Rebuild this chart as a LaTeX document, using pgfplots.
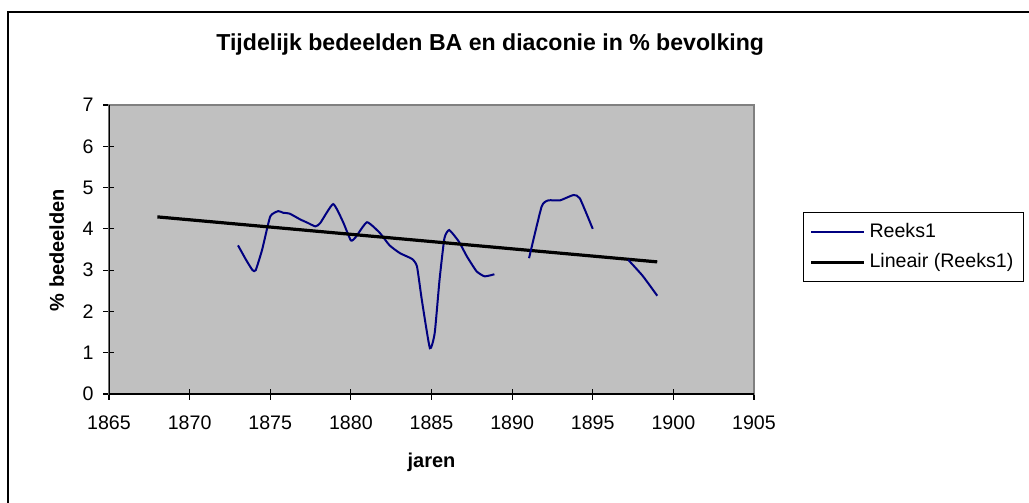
\documentclass[border=0pt]{standalone}
\usepackage{fontspec}
\setmainfont{Liberation Sans}
\usepackage{pgfplots}
\pgfplotsset{compat=1.18}

\definecolor{plotgray}{HTML}{C0C0C0}
\definecolor{bordergray}{HTML}{808080}
\definecolor{reeks}{HTML}{000080}

\begin{document}
\begin{tikzpicture}
% page = 1029 x 503 px at 0.5pt per px, axis box at (0,0)
\path[use as bounding box, clip] (-54.5pt,-54.5pt) rectangle (460pt,197pt);
\draw[line width=1pt] (-50.5pt,191pt) rectangle (480pt,-80pt);

\begin{axis}[
  scale only axis,
  width=322.5pt, height=144.5pt,
  xmin=1865, xmax=1905,
  ymin=0, ymax=7,
  xtick={1865,1870,...,1905},
  ytick={0,1,...,7},
  xtick pos=left, ytick pos=left,
  tick align=center,
  major tick length=5.5pt,
  tick style={black, line width=0.6pt},
  axis line style={bordergray, line width=0.6pt},
  axis background/.style={fill=plotgray},
  /pgf/number format/1000 sep={},
  /pgf/number format/assume math mode=true,
  tick label style={font=\fontsize{9.8}{12}\selectfont},
  xticklabel style={yshift=-4.5pt},
  yticklabel style={xshift=-1.5pt},
  every axis title shift=0pt,
  title={Tijdelijk bedeelden BA en diaconie in \% bevolking},
  title style={font=\bfseries\fontsize{11.55}{14}\selectfont, at={(axis description cs:0.591,1.208)}, anchor=center},
  xlabel={jaren},
  ylabel={\% bedeelden},
  label style={font=\bfseries\fontsize{10}{12}\selectfont},
  xlabel style={at={(axis description cs:0.5,-0.235)}, anchor=center},
  ylabel style={at={(axis description cs:-0.081,0.498)}, anchor=center},
  legend style={at={(axis description cs:1.076,0.63)}, anchor=north west,
    draw=black, fill=white, font=\fontsize{9.8}{12}\selectfont,
    row sep=2.5pt, inner ysep=3.5pt},
  legend cell align=left,
  legend image code/.code={\draw[mark repeat=2,mark phase=2] plot coordinates {(0cm,0cm) (0.47cm,0cm) (0.93cm,0cm)};},
]

\addplot[reeks, line width=1pt, smooth, tension=0.3] coordinates {
  (1873,3.6) (1873.5,3.25) (1873.9,3.0) (1874.1,3.0) (1874.5,3.5)
  (1875,4.3) (1875.5,4.43) (1875.8,4.39) (1876.2,4.37) (1876.85,4.23)
  (1877.3,4.15) (1877.8,4.06) (1878.1,4.14) (1878.9,4.6) (1879.5,4.18)
  (1880,3.72) (1880.3,3.8) (1881,4.16) (1881.8,3.9) (1882.4,3.6)
  (1883.05,3.41) (1883.8,3.27) (1884.1,3.09) (1884.4,2.28) (1884.9,1.11)
  (1885.2,1.48) (1885.5,2.77) (1885.8,3.77) (1886.1,3.97) (1886.7,3.69)
  (1887.2,3.33) (1887.8,2.97) (1888.3,2.85) (1888.9,2.9)
};
\addlegendentry{Reeks1}

\addplot[black, line width=1.6pt] coordinates {(1868,4.29) (1899,3.2)};
\addlegendentry{Lineair (Reeks1)\hspace{12pt}}

\addplot[reeks, line width=1pt, smooth, tension=0.3, forget plot] coordinates {
  (1891.05,3.29) (1891.83,4.54) (1892.25,4.69) (1892.97,4.69)
  (1893.8,4.82) (1894.2,4.74) (1895,4.0)
};
\addplot[reeks, line width=1pt, smooth, tension=0.3, forget plot] coordinates {
  (1897.2,3.25) (1898.1,2.86) (1899,2.38)
};

% black axis lines over the grey plot-area border
\draw[black, line width=0.6pt] (axis cs:1865,7) -- (axis cs:1865,0) -- (axis cs:1905,0);
\end{axis}
\end{tikzpicture}
\end{document}
